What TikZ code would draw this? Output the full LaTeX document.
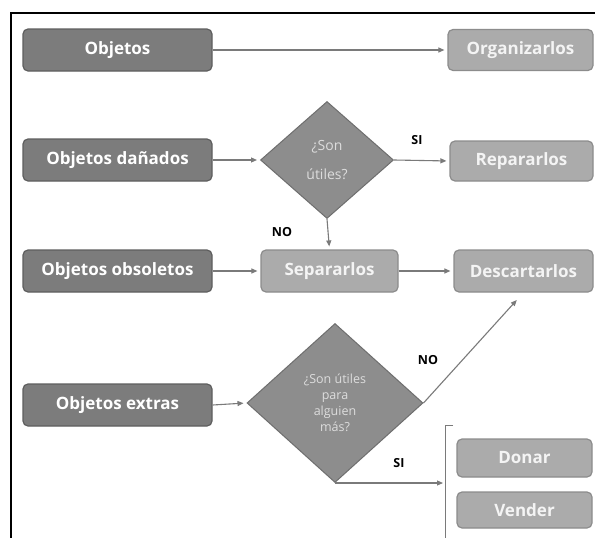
\documentclass[tikz,border=0pt]{standalone}
\usepackage{fontspec}
\setmainfont{Open Sans}
\usetikzlibrary{shapes.geometric,arrows.meta}
\definecolor{darkfill}{HTML}{7C7C7C}
\definecolor{darkline}{HTML}{5E5E5E}
\definecolor{lightfill}{HTML}{ABABAB}
\definecolor{lightline}{HTML}{8C8C8C}
\definecolor{decfill}{HTML}{8D8D8D}
\definecolor{decline}{HTML}{6E6E6E}
\definecolor{dectext}{HTML}{DDDDDD}
\definecolor{boxtext}{HTML}{F4F4F4}
\definecolor{arrowcol}{HTML}{7A7A7A}
\begin{document}
\begin{tikzpicture}[x=1pt,y=-1pt,
  darkbox/.style={draw=darkline, fill=darkfill, line width=1.2pt, rounded corners=5pt,
    minimum width=189pt, minimum height=42pt, inner sep=0pt,
    text=white, font=\fontsize{17}{20}\selectfont\bfseries},
  lightbox/.style={draw=lightline, fill=lightfill, line width=1.2pt, rounded corners=5pt,
    minimum height=41pt, inner sep=0pt,
    text=boxtext, font=\fontsize{17}{20}\selectfont\bfseries},
  decision/.style={diamond, draw=decline, fill=decfill, line width=1pt, inner sep=0pt,
    align=center, text=dectext},
  conn/.style={draw=arrowcol, line width=1.1pt, -{Triangle[length=6pt,width=5pt]}, shorten >=3pt},
  lbl/.style={font=\fontsize{12.5}{14}\selectfont\bfseries, text=black}
]
\useasboundingbox (0,0) rectangle (595,538);
\clip (0,0) rectangle (595,538);
\fill[white] (0,0) rectangle (595,538);
\draw[line width=2pt, black] (11,560) -- (11,13) -- (620,13);

% left column
\node[darkbox] (obj)  at (117.5,50)  {Objetos};
\node[darkbox] (dan)  at (117.5,160) {Objetos dañados};
\node[darkbox] (obs)  at (117.5,271) {Objetos obsoletos};
\node[darkbox] (ext)  at (117.5,405) {Objetos extras};

% right column
\node[lightbox, minimum width=145pt] (org) at (520.5,50)  {Organizarlos};
\node[lightbox, minimum width=143pt, minimum height=40pt] (rep) at (521.5,161) {Repararlos};
\node[lightbox, minimum width=137pt, minimum height=42pt] (sep) at (329.5,271) {Separarlos};
\node[lightbox, minimum width=139pt, minimum height=42pt] (des) at (523.5,271) {Descartarlos};
\node[lightbox, minimum width=135pt, minimum height=38pt] (don) at (524.5,458) {Donar};
\node[lightbox, minimum width=135pt, minimum height=36pt] (ven) at (524.5,510) {Vender};

% decisions
\node[decision, minimum width=133pt, minimum height=117pt,
  font=\fontsize{14}{29}\selectfont] (d1) at (327,160) {¿Son\\útiles?};
\node[decision, minimum width=176pt, minimum height=159pt,
  font=\fontsize{12.5}{16}\selectfont] (d2) at (335,403) {¿Son útiles\\para\\alguien\\más?};

% bracket
\coordinate (br) at (445,483);
\draw[draw=arrowcol, line width=1pt] (453,425) -- (445,425) -- (445,545);

% connectors
\draw[conn] (obj.east) -- (org.west);
\draw[conn] (dan.east) -- (d1.west);
\draw[conn] (d1.east) -- (rep.west);
\draw[conn] (d1.south) -- (sep.north);
\draw[conn] (obs.east) -- (sep.west);
\draw[conn] (sep.east) -- (des.west);
\draw[conn] (ext.east) -- (d2.west);
\draw[conn, shorten >=10pt] (d2.east) -- (des.south);
\draw[conn, shorten >=2pt] (d2.south) -- (br);

% labels
\node[lbl] (si1) at (417,140) {SI};
\node[lbl] (no1) at (282,232) {NO};
\node[lbl] (no2) at (428,360) {NO};
\node[lbl] (si2) at (399,463) {SI};
\end{tikzpicture}
\end{document}
